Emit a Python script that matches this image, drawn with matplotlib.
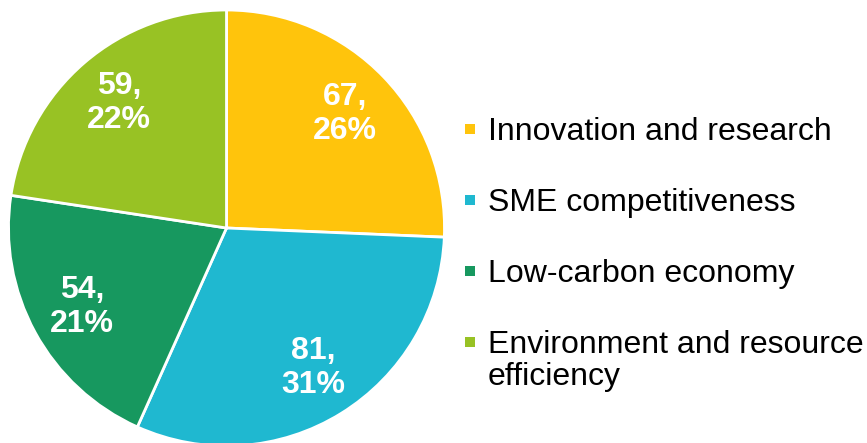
import matplotlib

matplotlib.use("Agg")
import matplotlib.pyplot as plt
import numpy as np

plt.rcParams["font.family"] = ["Liberation Sans", "DejaVu Sans"]

categories = [
    "Innovation and research",
    "SME competitiveness",
    "Low-carbon economy",
    "Environment and resource\nefficiency",
]
counts = [67, 81, 54, 59]
shares = [26, 31, 21, 22]  # as printed on the slices
colors = ["#FFC40C", "#1FB8D0", "#17985F", "#98C224"]

fig = plt.figure(figsize=(8.67, 4.43), dpi=100)
W, H = 867, 443
cx, cy, r = 226.5, 443 - 228, 218
ax = fig.add_axes([(cx - r) / W, (cy - r) / H, 2 * r / W, 2 * r / H])

ax.pie(
    counts,
    colors=colors,
    startangle=90,
    counterclock=False,
    radius=1,
    wedgeprops=dict(edgecolor="white", linewidth=2),
)
ax.set_xlim(-1, 1)
ax.set_ylim(-1, 1)
ax.set_aspect("equal")
ax.axis("off")

# slice labels "n,\nxx%"
total = sum(counts)
start = 90.0
for n, s in zip(counts, shares):
    mid = start - n / total * 360 / 2
    start -= n / total * 360
    a = np.deg2rad(mid)
    ax.text(0.755 * np.cos(a), 0.755 * np.sin(a), f"{n},\n{s}%",
            ha="center", va="center", color="white", fontsize=23,
            fontweight="bold", linespacing=1.15)

# legend drawn by hand in pixel coords (marker sits on the first line)
lg = fig.add_axes([0, 0, 1, 1], facecolor="none")
lg.set_xlim(0, W)
lg.set_ylim(H, 0)
lg.axis("off")
row_y = [129, 200, 271, 342]
for y, lab, c in zip(row_y, categories, colors):
    lg.scatter([470], [y], marker="s", s=60, color=c, linewidths=0)
    for k, line in enumerate(lab.split("\n")):
        lg.text(488, y + 11 + 32 * k, line, ha="left", va="baseline",
                fontsize=23, color="black")

fig.savefig("out.png", dpi=100)
